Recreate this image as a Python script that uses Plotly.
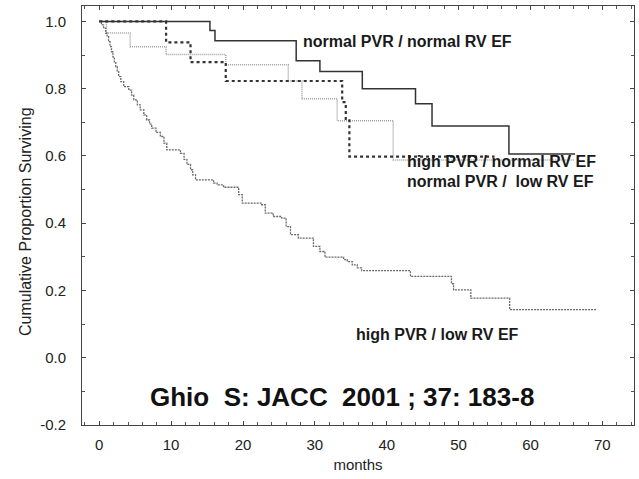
import plotly.graph_objects as go

# Kaplan-Meier step data (months, cumulative proportion surviving)
nn_t = [0, 15.4, 16.1, 27.4, 30.7, 36.6, 44.0, 46.3, 57.0, 66.2]
nn_s = [1.0, 0.973, 0.943, 0.883, 0.851, 0.800, 0.755, 0.689, 0.606, 0.606]

hn_t = [0, 9.3, 12.7, 17.6, 33.8, 34.3, 34.8, 55.0]
hn_s = [1.0, 0.938, 0.879, 0.823, 0.760, 0.710, 0.598, 0.598]

nl_t = [0, 1.0, 4.3, 9.3, 17.6, 26.3, 28.2, 33.1, 40.9, 66.0]
nl_s = [1.0, 0.966, 0.925, 0.902, 0.871, 0.823, 0.770, 0.705, 0.588, 0.588]

hl_t = [0, 0.3, 0.6, 0.9, 1.1, 1.3, 1.5, 1.7, 1.9, 2.1, 2.3, 2.5, 2.7, 3.0, 3.4,
        4.1, 4.5, 4.8, 5.3, 5.7, 6.2, 6.6, 7.0, 7.3, 7.9, 8.5, 9.0, 9.4, 11.3,
        11.8, 12.2, 12.7, 13.0, 13.4, 15.9, 16.4, 17.3, 19.4, 19.9, 22.6, 23.1,
        24.2, 25.4, 26.0, 26.6, 27.7, 29.8, 30.7, 31.4, 34.0, 34.5, 35.2, 35.9,
        36.5, 43.3, 49.0, 49.3, 51.7, 57.1, 69.2]
hl_s = [1.0, 0.99, 0.98, 0.965, 0.955, 0.94, 0.925, 0.91, 0.895, 0.88, 0.866,
        0.851, 0.836, 0.821, 0.806, 0.796, 0.781, 0.767, 0.752, 0.737, 0.722,
        0.707, 0.695, 0.683, 0.670, 0.658, 0.638, 0.618, 0.608, 0.59, 0.575,
        0.559, 0.544, 0.529, 0.519, 0.514, 0.507, 0.485, 0.460, 0.455, 0.430,
        0.420, 0.415, 0.39, 0.366, 0.356, 0.331, 0.316, 0.299, 0.292, 0.286,
        0.276, 0.267, 0.259, 0.242, 0.22, 0.202, 0.177, 0.143, 0.143]

labels = ["normal PVR / normal RV EF", "high PVR / normal RV EF",
          "normal PVR /  low RV EF", "high PVR / low RV EF"]
citation = "Ghio  S: JACC  2001 ; 37: 183-8"
y_title = "Cumulative Proportion Surviving"
x_title = "months"

x_ticks = [0, 10, 20, 30, 40, 50, 60, 70]
y_ticks = [-0.2, 0.0, 0.2, 0.4, 0.6, 0.8, 1.0]
y_ticktext = ["-0.2", "0.0", "0.2", "0.4", "0.6", "0.8", "1.0"]

FONT = "Liberation Sans, Arial, sans-serif"

fig = go.Figure()
fig.add_trace(go.Scatter(x=nl_t, y=nl_s, mode="lines", line_shape="hv",
                         line=dict(color="#a0a0a0", width=1.5, dash="1px,1px"),
                         name=labels[2]))
fig.add_trace(go.Scatter(x=hl_t, y=hl_s, mode="lines", line_shape="hv",
                         line=dict(color="#6a6a6a", width=1.3, dash="2px,1px"),
                         name=labels[3]))
fig.add_trace(go.Scatter(x=hn_t, y=hn_s, mode="lines", line_shape="hv",
                         line=dict(color="#333333", width=2.2, dash="3px,3px"),
                         name=labels[1]))
fig.add_trace(go.Scatter(x=nn_t, y=nn_s, mode="lines", line_shape="hv",
                         line=dict(color="#333333", width=1.5),
                         name=labels[0]))

bold = dict(family=FONT, size=16, color="#1a1a1a")
fig.add_annotation(x=42.9, y=0.939, text="<b>" + labels[0] + "</b>", showarrow=False,
                   font=bold, xanchor="center", yanchor="middle")
fig.add_annotation(x=42.6, y=0.585, text="<b>" + labels[1] + "</b>", showarrow=False,
                   font=bold, xanchor="left", yanchor="middle")
fig.add_annotation(x=42.6, y=0.523, text="<b>" + labels[2] + "</b>", showarrow=False,
                   font=bold, xanchor="left", yanchor="middle")
fig.add_annotation(x=35.4, y=0.068, text="<b>" + labels[3] + "</b>", showarrow=False,
                   font=bold, xanchor="left", yanchor="middle")
fig.add_annotation(x=33.8, y=-0.116, text="<b>" + citation + "</b>", showarrow=False,
                   font=dict(family=FONT, size=26, color="#111"),
                   xanchor="center", yanchor="middle")
fig.add_annotation(x=-0.1014, y=0.4845, xref="paper", yref="paper", text=y_title,
                   textangle=-90, showarrow=False, xanchor="center", yanchor="middle",
                   font=dict(family=FONT, size=16, color="#222"))

axis_common = dict(showgrid=False, zeroline=False, showline=True, linecolor="#444",
                   linewidth=1, mirror="allticks", ticks="inside", ticklen=4,
                   tickcolor="#444",
                   tickfont=dict(family=FONT, size=15, color="#222"))

fig.update_xaxes(range=[-2.4, 74.4], tickvals=x_ticks, ticklabelstandoff=6,
                 minor=dict(dtick=2, ticks="inside", ticklen=3, tickcolor="#555"),
                 title=dict(text=x_title, standoff=7,
                            font=dict(family=FONT, size=15, color="#222")),
                 **axis_common)
fig.update_yaxes(range=[-0.2, 1.046], tickvals=y_ticks, ticktext=y_ticktext,
                 ticklabelstandoff=12,
                 minor=dict(dtick=0.1, ticks="inside", ticklen=3, tickcolor="#555"),
                 **axis_common)

fig.update_layout(width=639, height=479, margin=dict(l=82, r=5, t=6, b=54),
                  paper_bgcolor="white", plot_bgcolor="white", showlegend=False)

fig.write_html("out.html")
